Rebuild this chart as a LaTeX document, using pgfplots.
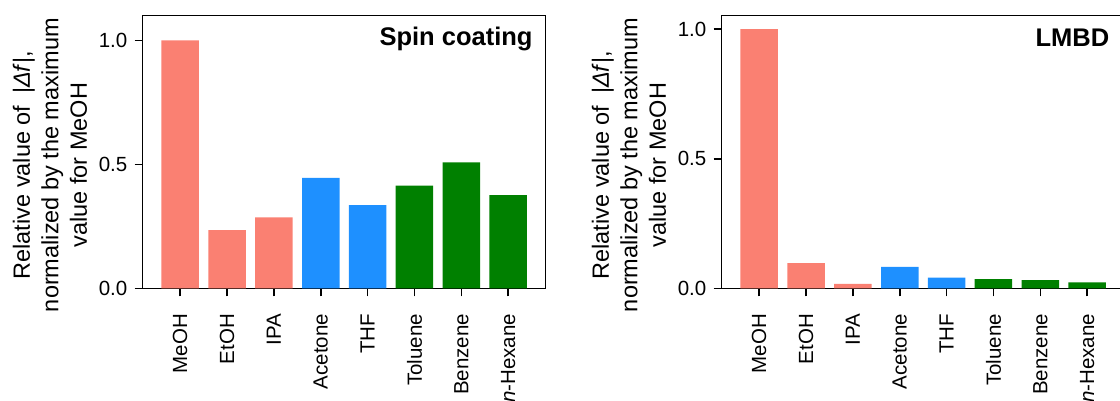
\documentclass[border=0pt]{standalone}
\usepackage{fontspec}
\setmainfont{Liberation Sans}
\usepackage{pgfplots}
\pgfplotsset{compat=1.18}
\definecolor{salmon}{HTML}{FA8072}
\definecolor{dodger}{HTML}{1E90FF}
\definecolor{grn}{HTML}{008000}

\newcommand\tickfont{\fontsize{10.25}{12}\selectfont}
\newcommand\labfont{\fontsize{11.75}{14.25}\selectfont}

\tikzset{ttl/.style={anchor=north east, inner sep=0pt, font=\bfseries\fontsize{12.75}{15}\selectfont}}

\pgfplotsset{
  panel/.style={
    scale only axis, width=201.5pt, height=136.5pt, anchor=south west,
    ybar, bar width=0.8, bar shift=0pt,
    xmin=-0.8, xmax=7.8, ymin=0,
    xtick={0,...,7},
    xticklabels={MeOH,EtOH,IPA,Acetone,THF,Toluene,Benzene,\textit{n}-Hexane},
    ytick={0,0.5,1}, yticklabels={0.0,0.5,1.0},
    tick pos=left, tick align=outside, major tick length=4pt,
    line width=0.75pt,
    every tick/.style={black, line width=0.75pt},
    xticklabel style={yshift=-5pt, rotate=90, anchor=east, font=\tickfont},
    yticklabel style={font=\tickfont},
    ylabel={Relative value of\enspace|\textit{Δf}|,\\normalized by the maximum\\value for MeOH},
    ylabel style={align=center, font=\labfont,
      at={(axis description cs:-0.136,0.452)}, anchor=south, inner sep=0pt},
    /pgf/number format/assume math mode=true,
  },
}

\begin{document}
\begin{tikzpicture}
\path[use as bounding box] (0,0) rectangle (560pt,200.5pt);
\clip (0,0) rectangle (560pt,200.5pt);

% spin coating
\begin{axis}[panel, at={(71.35pt,56.25pt)}, ymax=1.10]
\addplot[fill=salmon, draw=none] coordinates {(0,1.0) (1,0.235) (2,0.287)};
\addplot[fill=dodger, draw=none] coordinates {(3,0.446) (4,0.336)};
\addplot[fill=grn, draw=none] coordinates {(5,0.414) (6,0.508) (7,0.376)};
\node[ttl, xshift=-6.2pt, yshift=-5.6pt] at (rel axis cs:1,1) {Spin coating};
\end{axis}

% LMBD
\begin{axis}[panel, at={(360.85pt,56.25pt)}, ymax=1.053]
\addplot[fill=salmon, draw=none] coordinates {(0,1.0) (1,0.098) (2,0.018)};
\addplot[fill=dodger, draw=none] coordinates {(3,0.083) (4,0.042)};
\addplot[fill=grn, draw=none] coordinates {(5,0.036) (6,0.032) (7,0.024)};
\node[ttl, xshift=-7.35pt, yshift=-6.4pt] at (rel axis cs:1,1) {LMBD};
\end{axis}
\end{tikzpicture}
\end{document}
